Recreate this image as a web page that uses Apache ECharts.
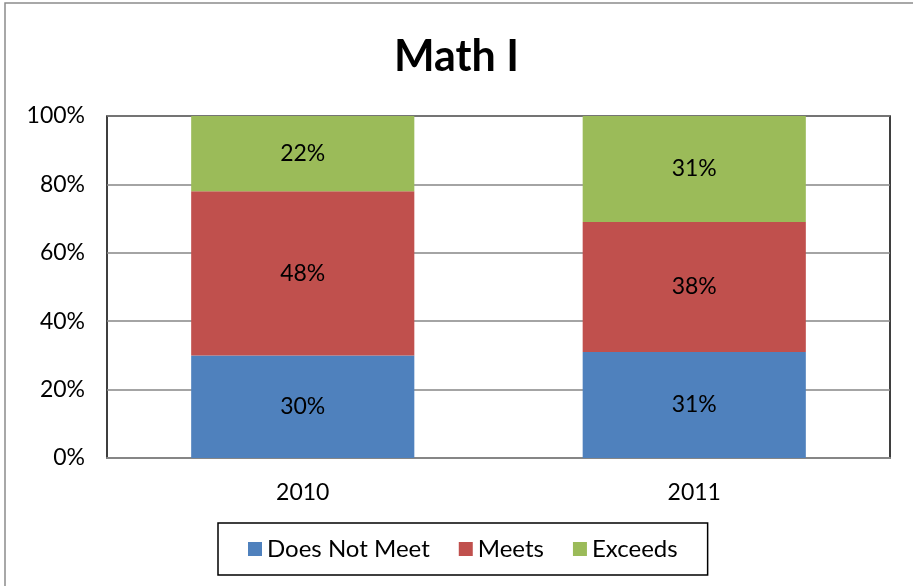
<!DOCTYPE html>
<html><head><meta charset="utf-8">
<script src="https://cdn.jsdelivr.net/npm/echarts@6/dist/echarts.min.js"></script>
<style>html,body{margin:0;padding:0;background:#fff}#c{width:913px;height:586px}</style>
</head><body><div id="c"></div>
<script>
const categories = ['2010', '2011'];
const doesNotMeet = [30, 31];
const meets = [48, 38];
const exceeds = [22, 31];
const seriesNames = ['Does Not Meet', 'Meets', 'Exceeds'];
const colors = ['#4F81BD', '#C0504D', '#9BBB59'];
const font = 'Lato, "Open Sans", sans-serif';

const chart = echarts.init(document.getElementById('c'));
const mk = (name, data, color) => ({
  name, type: 'bar', stack: 'total', data, barWidth: '57%',
  itemStyle: { color },
  label: { show: true, position: 'inside', formatter: p => p.value + '%', color: '#000', fontSize: 23, fontFamily: font }
});
chart.setOption({
  animation: false,
  title: { text: 'Math I', left: 'center', top: 31, textStyle: { fontSize: 43, fontWeight: 'bold', color: '#000', fontFamily: font } },
  graphic: [{ type: 'rect', shape: { x: 5, y: 3, width: 930, height: 620 }, style: { fill: 'none', stroke: '#8c8c8c', lineWidth: 1.5 }, silent: true }],
  grid: { left: 107, right: 23, top: 116, bottom: 128, show: true, borderColor: '#000', borderWidth: 1.5, backgroundColor: 'transparent' },
  legend: {
    data: seriesNames, bottom: 11, left: 218, itemWidth: 14, itemHeight: 14, itemGap: 29,
    borderColor: '#000', borderWidth: 1.5, padding: [14, 30],
    textStyle: { fontSize: 24, color: '#000', fontFamily: font }, icon: 'rect'
  },
  xAxis: { type: 'category', data: categories, axisTick: { show: false },
    axisLine: { lineStyle: { color: '#868686', width: 2 } },
    axisLabel: { fontSize: 23, color: '#000', margin: 23, fontFamily: font } },
  yAxis: { type: 'value', min: 0, max: 100, interval: 20,
    axisLabel: { formatter: '{value}%', fontSize: 23, color: '#000', margin: 22, fontFamily: font },
    splitLine: { lineStyle: { color: '#868686', width: 1.5 } },
    axisLine: { show: false }, axisTick: { show: false } },
  series: [mk(seriesNames[0], doesNotMeet, colors[0]), mk(seriesNames[1], meets, colors[1]), mk(seriesNames[2], exceeds, colors[2])]
});
</script></body></html>
